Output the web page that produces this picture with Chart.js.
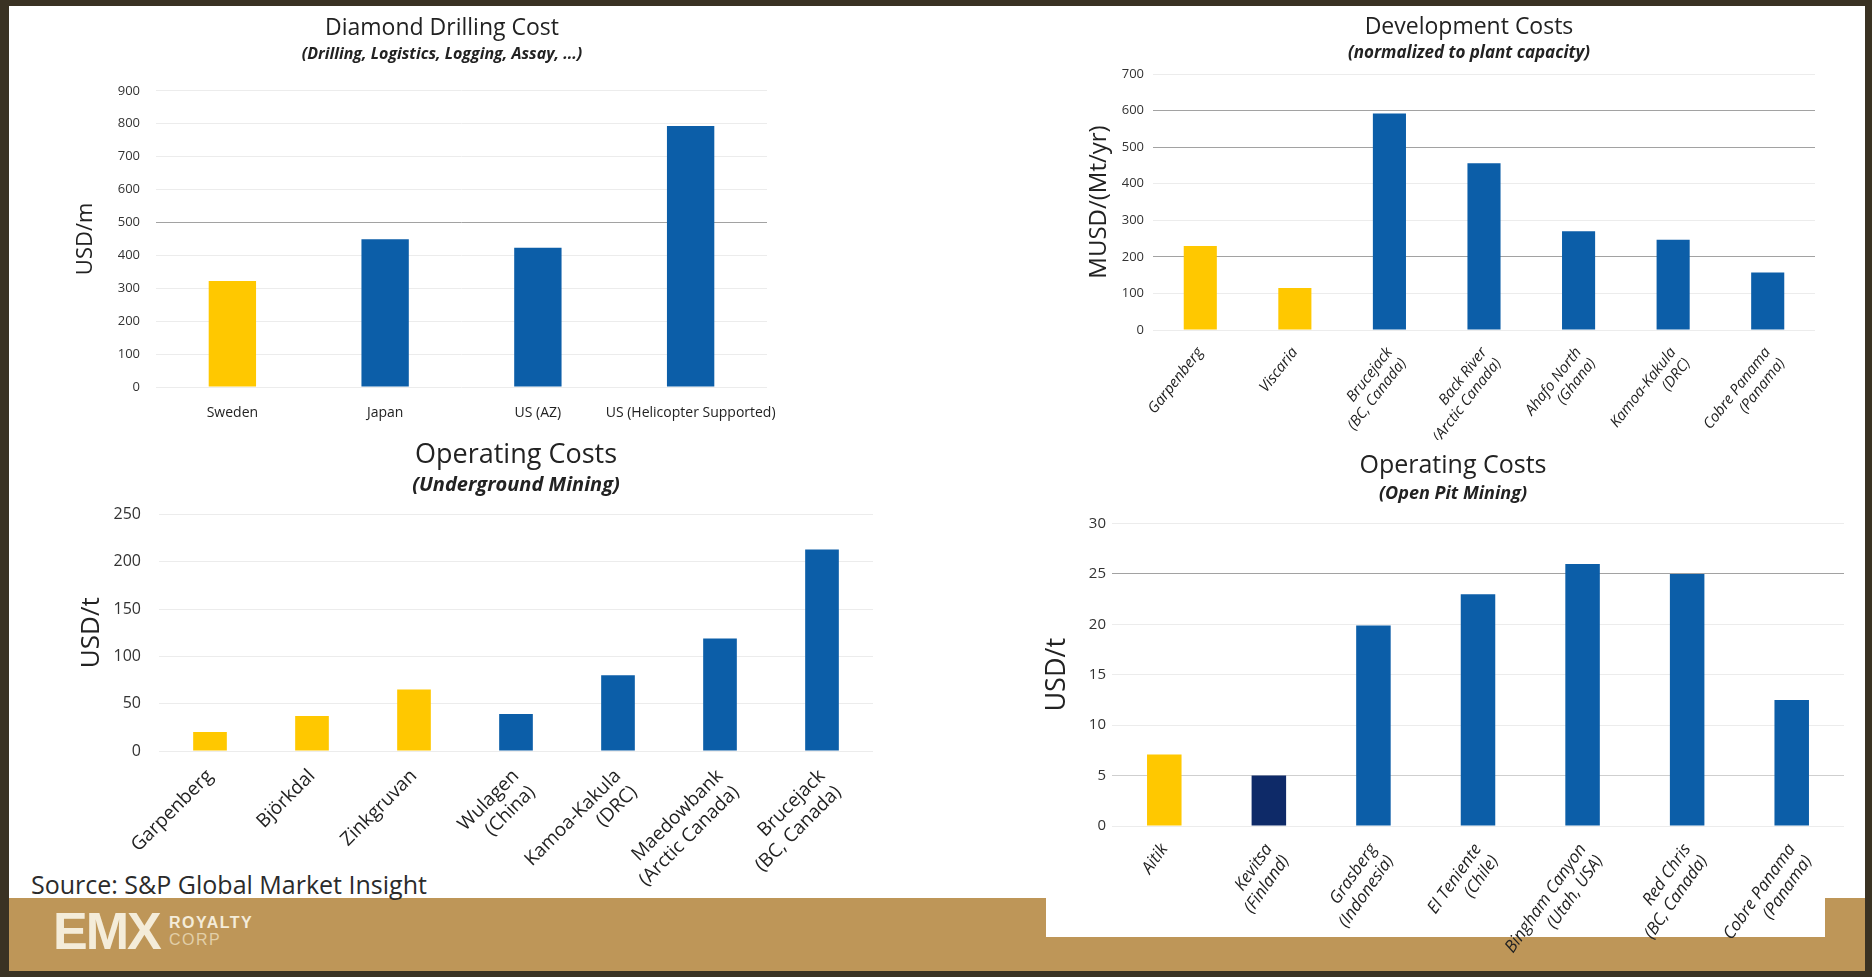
<!DOCTYPE html>
<html>
<head>
<meta charset="utf-8">
<script src="https://cdn.jsdelivr.net/npm/chart.js@4.4.1/dist/chart.umd.min.js"></script>
<style>
  html, body { margin: 0; padding: 0; }
  body { width: 1872px; height: 977px; background: #3a3223; position: relative; overflow: hidden; font-family: 'Open Sans', sans-serif; }
  #sheet { position: absolute; left: 9px; top: 6px; width: 1856px; height: 965px; background: #fff; }
  #band { position: absolute; left: 9px; top: 898px; width: 1856px; height: 73px; background: #be9658; }
  #panel { position: absolute; left: 1046px; top: 430px; width: 779px; height: 507px; background: #fff; }
  canvas { position: absolute; }
  #source { position: absolute; left: 31px; top: 868px; font-size: 25px; line-height: 32px; color: #2b2b2b; white-space: nowrap; }
  #logo { position: absolute; left: 53px; top: 906px; height: 50px; color: #f4ecd9; white-space: nowrap; }
  #logo .emx { position: absolute; left: 0; top: 0; font-family: 'Liberation Sans', sans-serif; font-weight: bold; font-size: 52px; line-height: 50px; letter-spacing: -2px; }
  #logo .corp { position: absolute; left: 116px; top: 8px; font-family: 'Liberation Sans', sans-serif; font-size: 16px; line-height: 17px; }
  #logo .corp b { letter-spacing: 1.5px; }
  #logo .corp span { color: #e2cfa8; letter-spacing: 1.5px; }
</style>
</head>
<body>
<div id="sheet"></div>
<div id="band"></div>
<div id="panel"></div>
<div id="source">Source: S&amp;P Global Market Insight</div>
<div id="logo"><span class="emx">EMX</span><span class="corp"><b>ROYALTY</b><br><span>CORP</span></span></div>

<canvas id="drill" width="804" height="421" style="left:40px;top:6px"></canvas>
<canvas id="dev" width="778" height="434" style="left:1080px;top:6px"></canvas>
<canvas id="ug" width="952" height="470" style="left:40px;top:425px"></canvas>
<canvas id="op" width="826" height="528" style="left:1040px;top:435px"></canvas>

<script>
// Diamond drilling cost, USD/m
const drillLabels = ['Sweden', 'Japan', 'US (AZ)', 'US (Helicopter Supported)'];
const drillValues = [322, 449, 423, 793];
const drillTicks = { max: 900, step: 100 };

// Development costs, MUSD/(Mt/yr)
const devLabels = [['Garpenberg'], ['Viscaria'], ['Brucejack', '(BC, Canada)'], ['Back River', '(Arctic Canada)'],
  ['Ahafo North', '(Ghana)'], ['Kamoa-Kakula', '(DRC)'], ['Cobre Panama', '(Panama)']];
const devValues = [230, 115, 592, 456, 270, 247, 157];
const devTicks = { max: 700, step: 100 };

// Operating costs, underground mining, USD/t
const ugLabels = ['Garpenberg', 'Björkdal', 'Zinkgruvan', ['Wulagen', '(China)'], ['Kamoa-Kakula', '(DRC)'],
  ['Maedowbank', '(Arctic Canada)'], ['Brucejack', '(BC, Canada)']];
const ugValues = [20, 37, 65, 39, 80, 119, 213];
const ugTicks = { max: 250, step: 50 };

// Operating costs, open pit mining, USD/t
const opLabels = ['Aitik', ['Kevitsa', '(Finland)'], ['Grasberg', '(Indonesia)'], ['El Teniente', '(Chile)'],
  ['Bingham Canyon', '(Utah, USA)'], ['Red Chris', '(BC, Canada)'], ['Cobre Panama', '(Panama)']];
const opValues = [7.1, 5.0, 19.9, 23, 26, 25, 12.5];
const opTicks = { max: 30, step: 5 };

// Nordic sites are highlighted
const yellowSites = ['Sweden', 'Garpenberg', 'Viscaria', 'Björkdal', 'Zinkgruvan', 'Aitik'];
const navySites = ['Kevitsa'];

const YELLOW = '#ffc800';
const BLUE = '#0c5ea8';
const NAVY = '#0e2a68';

Chart.defaults.font.family = "'Open Sans', sans-serif";
Chart.defaults.color = '#333';

function barColor(label) {
  const name = Array.isArray(label) ? label[0] : label;
  if (yellowSites.includes(name)) return YELLOW;
  if (navySites.includes(name)) return NAVY;
  return BLUE;
}

function makeChart(id, o) {
  const ctx = document.getElementById(id).getContext('2d');
  return new Chart(ctx, {
    type: 'bar',
    data: {
      labels: o.labels,
      datasets: [{
        data: o.values,
        backgroundColor: o.labels.map(barColor),
        borderWidth: 0,
        categoryPercentage: o.barPct,
        barPercentage: 1,
      }],
    },
    options: {
      responsive: false,
      animation: false,
      devicePixelRatio: 1,
      layout: { padding: 0 },
      plugins: {
        legend: { display: false },
        tooltip: { enabled: false },
        title: {
          display: true,
          text: o.title,
          color: '#222',
          font: { size: o.titleSize, weight: 'normal' },
          padding: { top: o.titlePad, bottom: 0 },
        },
        subtitle: {
          display: true,
          text: o.subtitle,
          color: '#222',
          font: { size: o.subSize, weight: 'bold', style: 'italic' },
          padding: { top: o.subPad[0], bottom: o.subPad[1] },
        },
      },
      scales: {
        x: {
          grid: { display: false },
          border: { display: false },
          ticks: {
            autoSkip: false,
            maxRotation: o.rotation,
            minRotation: o.rotation,
            padding: o.xPad,
            color: '#222',
            font: { size: o.xSize, style: o.xItalic ? 'italic' : 'normal' },
          },
          afterFit: s => { s.height = o.xHeight; },
        },
        y: {
          min: 0,
          max: o.ticks.max,
          border: { display: false },
          grid: {
            drawTicks: false,
            lineWidth: 1,
            color: c => (o.darkLines.includes(c.tick.value) ? '#a2a2a2' : (o.midLines.includes(c.tick.value) ? '#cfcfcf' : '#ececec')),
          },
          ticks: { stepSize: o.ticks.step, padding: o.yPad, color: '#333', font: { size: o.ySize } },
          title: {
            display: true,
            text: o.yTitle,
            color: '#222',
            font: { size: o.yTitleSize },
            padding: { top: o.yTitlePad, bottom: 0 },
          },
          afterFit: s => { s.width = o.yWidth; },
        },
        pad: {
          position: 'right',
          display: true,
          grid: { display: false },
          border: { display: false },
          ticks: { display: false },
          afterFit: s => { s.width = o.padRight; },
        },
      },
    },
  });
}

makeChart('drill', {
  labels: drillLabels, values: drillValues, ticks: drillTicks,
  title: 'Diamond Drilling Cost', titleSize: 23, titlePad: 9,
  subtitle: '(Drilling, Logistics, Logging, Assay, ...)', subSize: 16, subPad: [2, 27],
  rotation: 0, xPad: 10, xSize: 14, xItalic: false, xHeight: 40,
  darkLines: [500], midLines: [],
  ySize: 13, yPad: 16, yTitle: 'USD/m', yTitleSize: 22, yTitlePad: 33, yWidth: 116,
  padRight: 77, barPct: 0.31,
});

makeChart('dev', {
  labels: devLabels, values: devValues, ticks: devTicks,
  title: 'Development Costs', titleSize: 23, titlePad: 8,
  subtitle: '(normalized to plant capacity)', subSize: 17, subPad: [1, 11],
  rotation: 52, xPad: 6, xSize: 15, xItalic: true, xHeight: 110,
  darkLines: [200, 500, 600], midLines: [],
  ySize: 13, yPad: 9, yTitle: 'MUSD/(Mt/yr)', yTitleSize: 24, yTitlePad: 5, yWidth: 73,
  padRight: 43, barPct: 0.35,
});

makeChart('ug', {
  labels: ugLabels, values: ugValues, ticks: ugTicks,
  title: 'Operating Costs', titleSize: 27, titlePad: 14,
  subtitle: '(Underground Mining)', subSize: 20, subPad: [2, 17],
  rotation: 45, xPad: 6, xSize: 19, xItalic: false, xHeight: 144,
  darkLines: [], midLines: [],
  ySize: 16, yPad: 18, yTitle: 'USD/t', yTitleSize: 26, yTitlePad: 36, yWidth: 119,
  padRight: 119, barPct: 0.33,
});

makeChart('op', {
  labels: opLabels, values: opValues, ticks: opTicks,
  title: 'Operating Costs', titleSize: 25, titlePad: 16,
  subtitle: '(Open Pit Mining)', subSize: 18, subPad: [2, 19],
  rotation: 55, xPad: 6, xSize: 17, xItalic: true, xHeight: 137,
  darkLines: [25], midLines: [5],
  ySize: 15, yPad: 6, yTitle: 'USD/t', yTitleSize: 27, yTitlePad: 1, yWidth: 72,
  padRight: 22, barPct: 0.33,
});
</script>
</body>
</html>
